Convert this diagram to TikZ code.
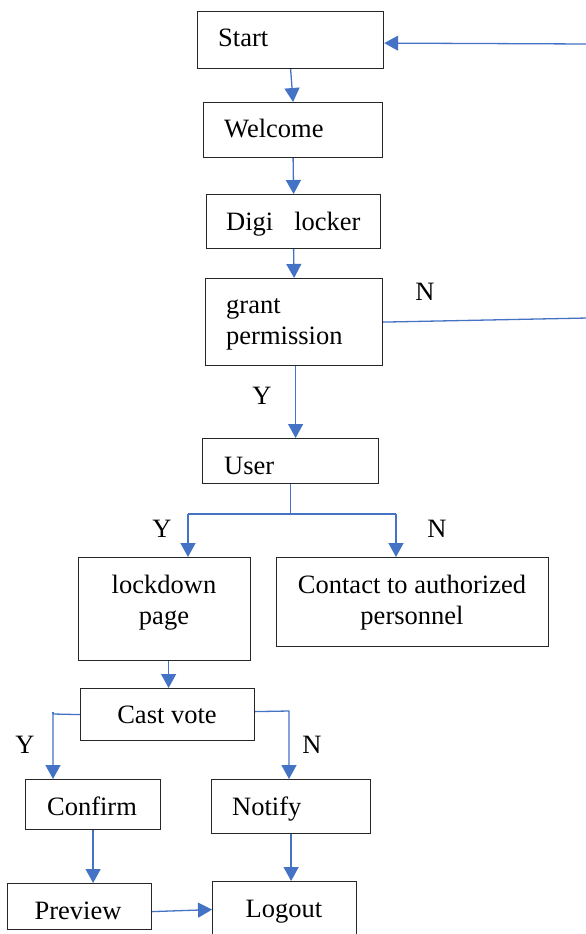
\documentclass[tikz,border=0pt]{standalone}
\usepackage{fontspec}
\setmainfont{Liberation Serif}
\usetikzlibrary{arrows.meta,calc}
\definecolor{lineblue}{HTML}{4472C4}
\begin{document}
\begin{tikzpicture}[x=1pt,y=-1pt,
  every node/.style={font=\fontsize{26.5}{31}\selectfont},
  box/.style={draw=black!85, line width=1.2pt, anchor=north west, inner sep=0pt},
  txt/.style={inner sep=0pt},
  bl/.style={draw=lineblue, line width=1.3pt},
  arr/.style={bl, -{Triangle[width=15pt,length=14pt]}}]
\useasboundingbox (0,0) rectangle (586,934);
\clip (0,0) rectangle (586,934);
% boxes
\node[box, minimum width=186pt, minimum height=57pt] (start) at (197,11) {};
\node[box, minimum width=179pt, minimum height=55pt] (welcome) at (203,102) {};
\node[box, minimum width=174pt, minimum height=54pt] (digi) at (206,194) {};
\node[box, minimum width=177pt, minimum height=87pt] (grant) at (205,278) {};
\node[box, minimum width=176pt, minimum height=45pt] (user) at (202,438) {};
\node[box, minimum width=172pt, minimum height=103pt] (lockdown) at (78,557) {};
\node[box, minimum width=272pt, minimum height=89pt] (contact) at (276,557) {};
\node[box, minimum width=174pt, minimum height=52pt] (cast) at (80,688) {};
\node[box, minimum width=135pt, minimum height=50pt] (confirm) at (25,779) {};
\node[box, minimum width=159pt, minimum height=54pt] (notify) at (211,779) {};
\node[box, minimum width=144pt, minimum height=46pt] (preview) at (7,883) {};
\node[box, minimum width=144pt, minimum height=56pt] (logout) at (212,881) {};
% texts
\node[txt, anchor=base west] (startT) at (218,47) {Start};
\node[txt, anchor=base west] (welcomeT) at (224,137) {Welcome};
\node[txt, anchor=base west] (digiT) at (226,230) {Digi\hspace{21pt}locker};
\node[txt, anchor=west, align=left] (grantT) at (226,324) {grant\\permission};
\node[txt, anchor=base west] (userT) at (224,474) {User};
\node[txt, align=center] (lockdownT) at (164,603) {lockdown\\page};
\node[txt, align=center] (contactT) at (412,603) {Contact to authorized\\personnel};
\node[txt, anchor=base] (castT) at (167,723) {Cast vote};
\node[txt, anchor=base] (confirmT) at (92,815) {Confirm};
\node[txt, anchor=base west] (notifyT) at (232,815) {Notify};
\node[txt, anchor=base] (previewT) at (78,919) {Preview};
\node[txt, anchor=base] (logoutT) at (284,917) {Logout};
% labels
\node[txt] (y1) at (262,396) {Y};
\node[txt] (n1) at (425,292) {N};
\node[txt] (y2) at (162,529) {Y};
\node[txt] (n2) at (437,529) {N};
\node[txt] (y3) at (25,745) {Y};
\node[txt] (n3) at (312,745) {N};
% connectors
\draw[arr] (start.south) -- (welcome.north);
\draw[arr] (welcome.south) -- (digi.north);
\draw[arr] (digi.south) -- (grant.north);
\draw[arr] ([xshift=1.5pt]grant.south) -- ([xshift=1.5pt]grant.south |- user.north);
\coordinate (uj) at ($(user.south)+(0,31)$);
\coordinate (uy) at (188,514);
\coordinate (un) at (396,514);
\draw[bl] (user.south) -- (uj);
\draw[bl] (uy) -- (un);
\draw[arr] (uy) -- (uy |- lockdown.north);
\draw[arr] (un) -- (un |- contact.north);
\draw[arr] ([xshift=4pt]lockdown.south) -- ([xshift=4pt]lockdown.south |- cast.north);
\coordinate (cy) at (53,714);
\draw[bl] (53,712) -- (cy);
\draw[arr] (cast.west) -- (cy) -- (cy |- confirm.north);
\coordinate (cn) at (289,711);
\draw[arr] ([yshift=3pt]cast.east) -- (cn) -- (cn |- notify.north);
\draw[arr] (confirm.south) -- (confirm.south |- preview.north);
\draw[arr] (notify.south) -- (notify.south |- logout.north);
\draw[arr] ([yshift=-5pt]preview.east) -- (logout.west);
\coordinate (rb) at (588,318);
\coordinate (rt) at (588,44);
\draw[arr] (grant.east) -- (rb) -- (rt) -- ([yshift=-3pt]start.east);
\end{tikzpicture}
\end{document}
